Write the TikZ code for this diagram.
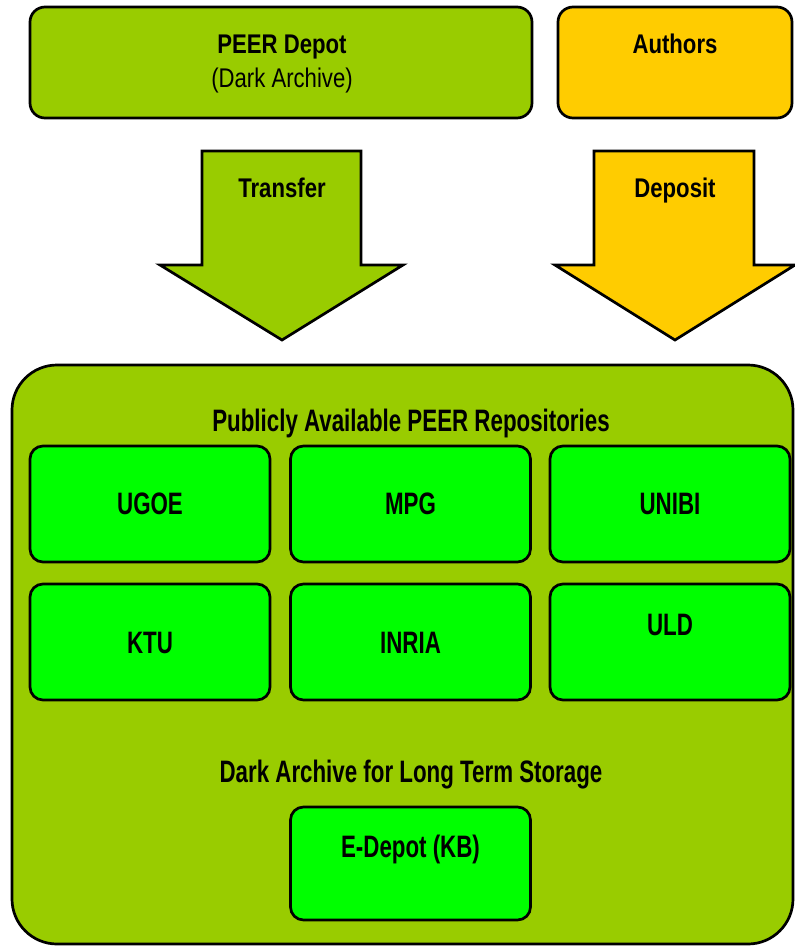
\documentclass[tikz,border=0pt]{standalone}
\usepackage{fontspec}
\setmainfont{Liberation Sans}[FakeStretch=0.82]
\newfontfamily\narrowfont{Liberation Sans}[FakeStretch=0.72]
\definecolor{olive}{RGB}{153,204,0}
\definecolor{lime}{RGB}{0,255,0}
\definecolor{gold}{RGB}{255,204,0}
\begin{document}
\begin{tikzpicture}[x=1pt,y=-1pt,
  line width=2.7pt,
  top box/.style={draw,rounded corners=15pt,inner sep=0pt},
  repo box/.style={draw,fill=lime,rounded corners=13pt,inner sep=0pt,minimum width=240pt,minimum height=116pt},
  top text/.style={anchor=base,inner sep=0pt,font=\fontsize{27}{32}\selectfont\bfseries},
  low text/.style={anchor=base,inner sep=0pt,font=\narrowfont\fontsize{31}{36}\selectfont\bfseries}]

  \useasboundingbox (0,0) rectangle (795,946);

  \node[top box,fill=olive,minimum width=502pt,minimum height=111pt] (depot) at (281,62.5){};
  \node[top box,fill=gold,minimum width=234pt,minimum height=111pt] (authors) at (675,62.5){};

  \draw[fill=olive] (202,151) -- (361,151) -- (361,265) -- (403,265) -- (282,340) -- (160,265) -- (202,265) -- cycle;
  \draw[fill=gold] (594,151) -- (754,151) -- (754,265) -- (795,265) -- (675,340) -- (555,265) -- (594,265) -- cycle;

  \node[draw,fill=olive,rounded corners=45pt,inner sep=0pt,minimum width=781pt,minimum height=579pt] (peer) at (402.5,654.5){};

  \node[repo box] (ugoe) at (150,504){};
  \node[repo box] (mpg) at (410.5,504){};
  \node[repo box] (unibi) at (670,504){};
  \node[repo box] (ktu) at (150,642){};
  \node[repo box] (inria) at (410.5,642){};
  \node[repo box] (uld) at (670,642){};
  \node[repo box,minimum height=113pt] (edepot) at (410.5,863.5){};

  \node[top text] (depot title) at (282,53){PEER Depot};
  \node[top text,font=\fontsize{27}{32}\selectfont] (depot sub) at (282,87){(Dark Archive)};
  \node[top text] (authors title) at (675,53){Authors};
  \node[top text] (transfer) at (282,197){Transfer};
  \node[top text] (deposit) at (675,197){Deposit};

  \node[low text] (public) at (411,431){Publicly Available PEER Repositories};
  \node[low text] (ugoe title) at (150,514){UGOE};
  \node[low text] (mpg title) at (410.5,514){MPG};
  \node[low text] (unibi title) at (670,514){UNIBI};
  \node[low text] (ktu title) at (150,653){KTU};
  \node[low text] (inria title) at (410.5,653){INRIA};
  \node[low text] (uld title) at (670,635){ULD};
  \node[low text] (dark) at (411,782){Dark Archive for Long Term Storage};
  \node[low text] (edepot title) at (410.5,857){E-Depot (KB)};
\end{tikzpicture}
\end{document}
